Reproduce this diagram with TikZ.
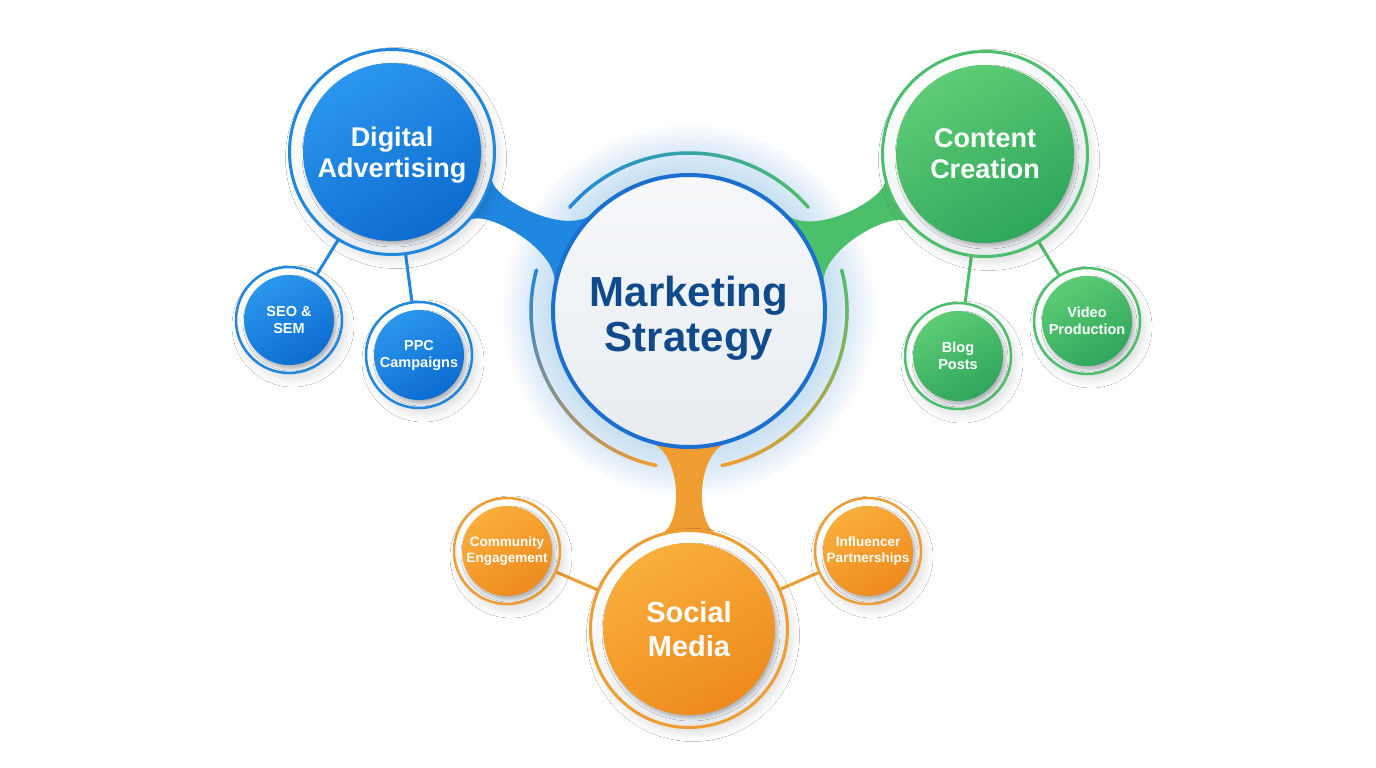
\documentclass[tikz,border=0pt]{standalone}
\usepackage{fontspec}
\setmainfont{Liberation Sans}
\usetikzlibrary{calc,shadows.blur}
\definecolor{cblue}{HTML}{1F87E0}
\definecolor{cblueL}{HTML}{2B96EE}
\definecolor{cblueD}{HTML}{0C6CD0}
\definecolor{cgreen}{HTML}{4CBF6B}
\definecolor{cgreenL}{HTML}{5DCC74}
\definecolor{cgreenD}{HTML}{2FA65C}
\definecolor{corange}{HTML}{EF9C30}
\definecolor{corangeL}{HTML}{F9AE3C}
\definecolor{corangeD}{HTML}{EE8A1D}
\definecolor{cring}{HTML}{1B6FD0}
\definecolor{cnavy}{HTML}{0F4A8C}
\definecolor{cfillL}{HTML}{F6F8FA}
\definecolor{cfillD}{HTML}{E8ECF1}
\definecolor{ringgrey}{HTML}{E6E9ED}
\definecolor{cglow}{HTML}{64B0F2}
\pgfdeclarelayer{glowlayer}
\pgfdeclarelayer{bglayer}
\pgfsetlayers{glowlayer,bglayer,main}
% #1 A, #2 rA, #3 spread A, #4 B, #5 rB, #6 spread B, #7 axial of ctrl1 from A, #8 axial of ctrl2 from A, #9 half width of ctrl line
\newcommand\mybranch[9]{%
 \coordinate (bAu) at ($(#1)!#2!#3:(#4)$);
 \coordinate (bAl) at ($(#1)!#2!-#3:(#4)$);
 \coordinate (bBu) at ($(#4)!#5!-#6:(#1)$);
 \coordinate (bBl) at ($(#4)!#5!#6:(#1)$);
 \coordinate (bM1) at ($(#1)!#7!(#4)$);
 \coordinate (bM2) at ($(#1)!#8!(#4)$);
 \coordinate (bP1u) at ($(bM1)!#9!90:(#4)$);
 \coordinate (bP1l) at ($(bM1)!#9!-90:(#4)$);
 \coordinate (bP2u) at ($(bM2)!#9!90:(#4)$);
 \coordinate (bP2l) at ($(bM2)!#9!-90:(#4)$);
 \fill[brc] (#1) -- (bAu) .. controls (bP1u) and (bP2u) .. (bBu) -- (#4) -- (bBl) .. controls (bP2l) and (bP1l) .. (bAl) -- cycle;
}
\newcommand\myarc[4]{%
 \foreach \i in {0,...,39}{%
   \pgfmathsetmacro\aa{#1+(#2-#1)*\i/40}%
   \pgfmathsetmacro\bb{#1+(#2-#1)*(\i+1)/40}%
   \pgfmathtruncatemacro\pp{100-\i*100/39}%
   \colorlet{arcc}{#3!\pp!#4}%
   \draw[line width=3.5pt, line cap=round, arcc] plot[domain=\aa:\bb, samples=4] ({689+158*cos(\x)},{311+158*sin(\x)});
 }}
\begin{document}
\begin{tikzpicture}[x=1pt,y=-1pt,
  ringbase/.style={circle, inner sep=0pt, line width=3pt, top color=white, bottom color=ringgrey, shading angle=30,
     blur shadow={shadow xshift=4pt, shadow yshift=-6pt, shadow blur steps=12, shadow blur radius=8pt, shadow opacity=13}},
  bigring/.style={ringbase, minimum size=205pt},
  smallring/.style={ringbase, minimum size=106pt, line width=2.5pt},
  corebase/.style={circle, inner sep=0pt, text=white, align=center,
     blur shadow={shadow xshift=2pt, shadow yshift=-3pt, shadow blur steps=6, shadow blur radius=3pt, shadow opacity=25}},
  bigcore/.style={corebase, minimum size=178pt, font=\bfseries\fontsize{27}{31}\selectfont},
  smallcore/.style={corebase, minimum size=90pt, font=\bfseries\fontsize{14.5}{17}\selectfont},
  bluecore/.style={top color=cblueL, bottom color=cblueD, shading angle=30},
  greencore/.style={top color=cgreenL, bottom color=cgreenD, shading angle=30},
  orangecore/.style={top color=corangeL, bottom color=corangeD, shading angle=30},
  thinlink/.style={line width=3pt},
]
\useasboundingbox (0,0) rectangle (1376,768);

% central
\node[circle, inner sep=0pt, minimum size=272pt, draw=cring, line width=4pt,
      top color=cfillL, bottom color=cfillD,
      label={[text=cnavy, align=center, yshift=-7pt, font=\bfseries\fontsize{42}{45}\selectfont]center:Marketing\\Strategy}] (c) at (689,311) {};

% main branches
\node[bigring, draw=cblue] (da) at (392,152) {};
\node[bigcore, bluecore, label={[text=white, align=center, yshift=-3pt, font=\bfseries\fontsize{27}{31}\selectfont]center:Digital\\Advertising}] (dai) at (da.center) {};
\node[bigring, draw=cgreen] (cc) at (985,154) {};
\node[bigcore, greencore] (cci) at (cc.center) {Content\\Creation};
\node[bigring, draw=corange, minimum size=197pt] (sm) at (689,629) {};
\node[bigcore, orangecore, minimum size=172pt, font=\bfseries\fontsize{29}{34}\selectfont] (smi) at (sm.center) {Social\\Media};

% leaves
\node[smallring, draw=cblue] (seo) at (289,320) {};
\node[smallcore, bluecore] (seoi) at (seo.center) {SEO \&\\SEM};
\node[smallring, draw=cblue] (ppc) at (419,355) {};
\node[smallcore, bluecore] (ppci) at (ppc.center) {PPC\\Campaigns};
\node[smallring, draw=cgreen] (blog) at (958,356) {};
\node[smallcore, greencore] (blogi) at (blog.center) {Blog\\Posts};
\node[smallring, draw=cgreen] (video) at (1087,321) {};
\node[smallcore, greencore] (videoi) at (video.center) {Video\\Production};
\node[smallring, draw=corange] (comm) at (507,551) {};
\node[smallcore, orangecore, font=\bfseries\fontsize{13.5}{16}\selectfont] (commi) at (comm.center) {Community\\Engagement};
\node[smallring, draw=corange] (infl) at (868,551) {};
\node[smallcore, orangecore, font=\bfseries\fontsize{13.5}{16}\selectfont] (infli) at (infl.center) {Influencer\\Partnerships};

\begin{pgfonlayer}{glowlayer}
\fill[white] (0,0) rectangle (1376,768);
\foreach \r in {138,142,...,186} \fill[cglow, opacity=0.03] (c.center) circle[radius=\r pt];
\end{pgfonlayer}

\begin{pgfonlayer}{bglayer}
\draw[thinlink, cblue] (da) -- (seo);
\draw[thinlink, cblue] (da) -- (ppc);
\draw[thinlink, cgreen] (cc) -- (blog);
\draw[thinlink, cgreen] (cc) -- (video);
\draw[thinlink, corange] (sm) -- (comm);
\draw[thinlink, corange] (sm) -- (infl);
\colorlet{brc}{cblue}
\mybranch{da.center}{103pt}{14}{c.center}{137pt}{18}{105pt}{196pt}{6pt}
\colorlet{brc}{cgreen}
\mybranch{cc.center}{103pt}{14}{c.center}{137pt}{18}{105pt}{194pt}{6pt}
\colorlet{brc}{corange}
\mybranch{sm.center}{99pt}{17}{c.center}{137pt}{17}{102pt}{177pt}{6pt}
\myarc{221}{319}{cblue}{cgreen}
\myarc{195}{102}{cblue}{corange}
\myarc{-15}{78}{cgreen}{corange}
\end{pgfonlayer}
\end{tikzpicture}
\end{document}
